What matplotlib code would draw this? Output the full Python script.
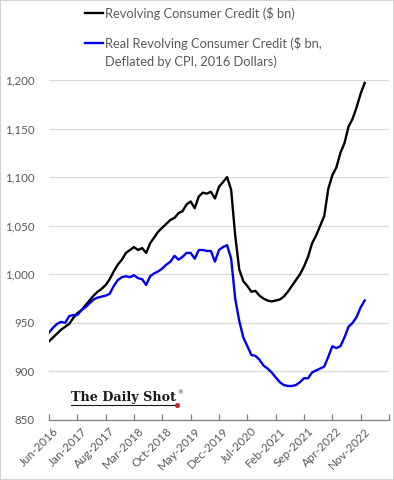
import matplotlib
matplotlib.use("Agg")
import matplotlib.pyplot as plt
from matplotlib.lines import Line2D
from matplotlib.patches import Rectangle

# ---------------- data ----------------
tick_labels = ["Jun-2016", "Jan-2017", "Aug-2017", "Mar-2018", "Oct-2018", "May-2019",
               "Dec-2019", "Jul-2020", "Feb-2021", "Sep-2021", "Apr-2022", "Nov-2022"]

nominal = [931, 935, 939, 943, 946, 949, 955, 960, 963, 968,
           973, 978, 982, 985, 989, 995, 1003, 1010, 1015, 1022,
           1025, 1028, 1025, 1027, 1022, 1032, 1038, 1044, 1048, 1052,
           1056, 1058, 1063, 1065, 1072, 1075, 1068, 1080, 1084, 1083,
           1085, 1078, 1090, 1095, 1100, 1087, 1040, 1005, 993, 988,
           982, 983, 978, 975, 973, 972, 973, 974, 977, 982,
           988, 994, 1000, 1008, 1018, 1032, 1040, 1050, 1060, 1088,
           1102, 1110, 1125, 1135, 1152, 1160, 1172, 1186, 1197]

real = [940, 945, 949, 951, 950, 957, 958, 958, 963, 966,
        970, 974, 976, 977, 978, 980, 988, 994, 997, 998,
        997, 999, 996, 995, 989, 998, 1001, 1003, 1006, 1010,
        1013, 1019, 1015, 1018, 1022, 1022, 1016, 1025, 1025, 1024,
        1024, 1013, 1025, 1028, 1030, 1016, 975, 952, 935, 926,
        917, 916, 912, 906, 903, 899, 894, 889, 886, 885,
        885, 886, 889, 893, 893, 899, 901, 903, 905, 915,
        926, 924, 926, 935, 946, 950, 956, 966, 973]

label_nominal = "Revolving Consumer Credit ($ bn)"
label_real = "Real Revolving Consumer Credit ($ bn,\nDeflated by CPI, 2016 Dollars)"

# ---------------- figure ----------------
W, H = 394, 480
fig = plt.figure(figsize=(W / 100, H / 100), dpi=100)
fig.patch.set_facecolor("white")
fig.patches.append(Rectangle((0, 0), 1, 1, transform=fig.transFigure,
                             fill=False, edgecolor="#c8c8c8", linewidth=1.2))

ax = fig.add_axes([49 / W, 1 - 420 / H, (389 - 49) / W, (420 - 80) / H])
font = "Lato"
gray = "#595959"

x = list(range(len(nominal)))
ax.plot(x, nominal, color="black", linewidth=1.7, solid_joinstyle="round")
ax.plot(x, real, color="#0000F0", linewidth=1.7, solid_joinstyle="round")

ax.set_ylim(850, 1200)
ax.set_xlim(0, 84)
yt = list(range(850, 1201, 50))
ax.set_yticks(yt)
ax.set_yticklabels([f"{v:,}" for v in yt], fontfamily=font, fontsize=8.3, color=gray)
ax.yaxis.grid(True, color="#d9d9d9", linewidth=0.9)
ax.set_axisbelow(True)
ax.tick_params(axis="y", length=0, pad=10)

ax.set_xticks(range(0, 85, 7))
ax.set_xticklabels([])
ax.set_xticks([i * 7 + 1 for i in range(len(tick_labels))], minor=True)
ax.set_xticklabels(tick_labels, minor=True, rotation=45, ha="right",
                   rotation_mode="anchor", fontfamily=font, fontsize=8.5, color=gray)
ax.tick_params(axis="x", which="major", direction="in", length=4, color="#7f7f7f", width=0.9)
ax.tick_params(axis="x", which="minor", length=0, pad=4)

for s in ["top", "right", "left"]:
    ax.spines[s].set_visible(False)
ax.spines["bottom"].set_color("#7f7f7f")
ax.spines["bottom"].set_linewidth(0.9)

# ---------------- legend (manual) ----------------
def fx(px):
    return px / W

def fy(py):
    return 1 - py / H

fig.lines.append(Line2D([fx(85), fx(103)], [fy(13), fy(13)], color="black",
                        linewidth=1.7, transform=fig.transFigure))
fig.text(fx(105), fy(13), label_nominal, fontfamily=font, fontsize=9.3,
         color=gray, va="center", ha="left")
fig.lines.append(Line2D([fx(85), fx(103)], [fy(43), fy(43)], color="#0000F0",
                        linewidth=1.7, transform=fig.transFigure))
fig.text(fx(105), fy(43) + 0.012, label_real, fontfamily=font, fontsize=9.3,
         color=gray, va="top", ha="left", linespacing=1.45)

# ---------------- logo ----------------
logo = fig.text(fx(71), fy(398), "The Daily Shot", fontfamily="DejaVu Serif", fontsize=9.2,
                color="#1a1a1a", va="center", ha="left", fontweight="bold")
fig.canvas.draw()
bb = logo.get_window_extent()
right_px = bb.x1
fig.text((right_px + 1) / W, fy(393), "®", fontfamily="DejaVu Sans", fontsize=4,
         color="#1a1a1a", va="center", ha="left")
fig.lines.append(Line2D([fx(71), right_px / W + 0.002], [fy(405), fy(405)], color="#1a1a1a",
                        linewidth=0.8, transform=fig.transFigure))
fig.lines.append(Line2D([right_px / W + 0.003], [fy(405)], marker="o", markersize=2.6,
                        color="#d0202a", transform=fig.transFigure))

fig.savefig("out.png", dpi=100)
